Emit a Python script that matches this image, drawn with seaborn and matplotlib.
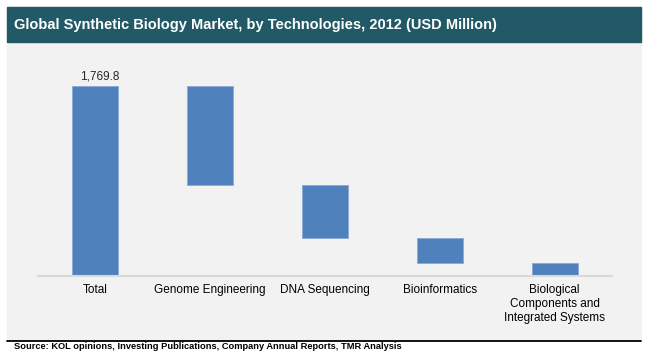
import numpy as np
import pandas as pd
import seaborn as sns
import matplotlib.pyplot as plt
from matplotlib.patches import Rectangle
from matplotlib.lines import Line2D

# --- DATA ---
categories = ['Total', 'Genome Engineering', 'DNA Sequencing', 'Bioinformatics',
              'Biological\nComponents and\nIntegrated Systems']
total = 1769.8
segments = [925.0, 491.0, 231.0, 122.8]
title = "Global Synthetic Biology Market, by Technologies, 2012 (USD Million)"
source = "Source: KOL opinions, Investing Publications, Company Annual Reports, TMR Analysis"

# waterfall: heights and bottoms
heights = [total] + segments
bottoms = [0.0] + list(total - np.cumsum(segments))
df = pd.DataFrame({'cat': categories, 'height': heights})

sns.set_style('white')
plt.rcParams['font.family'] = ['Liberation Sans', 'DejaVu Sans']

W, H = 650, 364
fig = plt.figure(figsize=(W / 100, H / 100), dpi=100)
fig.patch.set_facecolor('white')

# background panels
fig.add_artist(Rectangle((7 / W, 1 - 340 / H), 634 / W, 298 / H,
                         transform=fig.transFigure, color='#f2f2f2', zorder=0))
fig.add_artist(Rectangle((7 / W, 1 - 42 / H), 634 / W, 35 / H,
                         transform=fig.transFigure, color='#215967', zorder=1))
fig.add_artist(Line2D([7 / W, 641 / W], [1 - 340.5 / H] * 2,
                      transform=fig.transFigure, color='black', lw=1.3))
fig.text(14 / W, 1 - 25 / H, title, color='white', fontsize=10.5,
         fontweight='bold', va='center', ha='left')
fig.text(14.5 / W, 1 - 346.5 / H, source, color='black', fontsize=6.7,
         fontweight='bold', va='center', ha='left')

ax = fig.add_axes([38 / W, 88 / H, 574 / W, 215 / H])
ax.set_facecolor('none')
sns.barplot(data=df, x='cat', y='height', color='#4f81bd', saturation=1,
            width=0.40, edgecolor='#8aa9d4', linewidth=0.6, ax=ax)
for patch, b in zip(ax.patches, bottoms):
    patch.set_y(b)

ax.set_xlim(-0.5, 4.5)
ax.set_ylim(0, 2000)
ax.set_yticks([])
ax.set_xlabel('')
ax.set_ylabel('')
for s in ['top', 'right', 'left']:
    ax.spines[s].set_visible(False)
ax.spines['bottom'].set_color('#d9d9d9')
ax.spines['bottom'].set_linewidth(1.5)
ax.tick_params(axis='x', length=0, pad=6, labelsize=8.5, colors='black')
for lbl in ax.get_xticklabels():
    lbl.set_linespacing(1.2)

ax.annotate(f"{total:,.1f}", xy=(0, total), xytext=(3, 2), textcoords='offset points',
            ha='center', va='bottom', fontsize=8.5, color='#262626')

fig.savefig('out.png', dpi=100, facecolor='white')
